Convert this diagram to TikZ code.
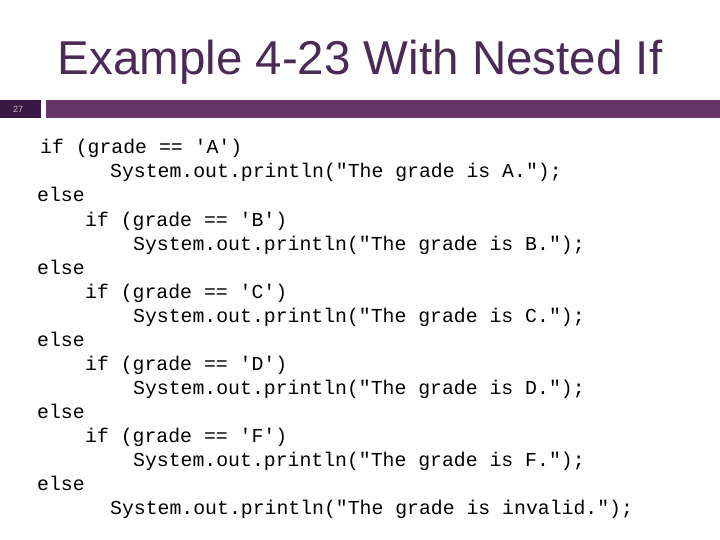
\documentclass[tikz,border=0pt]{standalone}
\usepackage{fontspec}
\setmainfont{Liberation Sans}
\newfontfamily\codefont{Liberation Mono}
\definecolor{titlec}{HTML}{4B2A58}
\definecolor{darkbox}{HTML}{3A1845}
\definecolor{barc}{HTML}{66356A}
\begin{document}
\begin{tikzpicture}[x=1pt,y=-1pt,
  code/.style={anchor=base west,inner sep=0pt,font=\codefont\fontsize{19.8}{24}\selectfont}]
\useasboundingbox[fill=white] (0,0) rectangle (720,540);
\node[font=\fontsize{47.5}{52}\selectfont,text=titlec,anchor=base] (title) at (360,75) {Example 4-23 With Nested If};
\fill[darkbox] (0,100) rectangle (41,118);
\node[font=\fontsize{9}{10}\selectfont,text=white!70!darkbox,anchor=base west,inner sep=0pt] (num) at (13,113) {27};
\fill[barc] (46,100) rectangle (720,118);
\foreach \x/\y/\t [count=\i] in {
 40/148/{if (grade == 'A')},
 110/172/{System.out.println("The grade is A.");},
 37/196/{else},
 85/220/{if (grade == 'B')},
 133/244/{System.out.println("The grade is B.");},
 37/268/{else},
 85/292/{if (grade == 'C')},
 133/316/{System.out.println("The grade is C.");},
 37/340/{else},
 85/364/{if (grade == 'D')},
 133/388/{System.out.println("The grade is D.");},
 37/412/{else},
 85/436/{if (grade == 'F')},
 133/460/{System.out.println("The grade is F.");},
 37/484/{else},
 110/508/{System.out.println("The grade is invalid.");}}
 {\node[code] (l\i) at (\x,\y+6) {\t};}
\end{tikzpicture}
\end{document}
